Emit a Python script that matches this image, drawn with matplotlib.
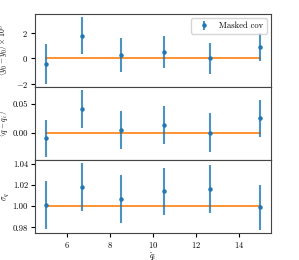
import numpy as np
import matplotlib
matplotlib.use('Agg')
import matplotlib.pyplot as plt

plt.rcParams['font.family'] = 'serif'
plt.rcParams['font.serif'] = ['cmr10']
plt.rcParams['mathtext.fontset'] = 'cm'
plt.rcParams['axes.formatter.use_mathtext'] = True
plt.rcParams['font.size'] = 6.2

q_hat = [5.0, 6.67, 8.5, 10.5, 12.67, 15.0]

y0_mean = [-0.42, 1.79, 0.24, 0.53, 0.0, 0.90]
y0_err = [1.58, 1.46, 1.35, 1.28, 1.21, 1.12]

dq_mean = [-0.0098, 0.040, 0.0041, 0.0134, 0.0, 0.025]
dq_err = [0.032, 0.033, 0.033, 0.033, 0.033, 0.032]

sig_mean = [1.001, 1.018, 1.0067, 1.0139, 1.016, 0.999]
sig_err = [0.0225, 0.0224, 0.023, 0.0225, 0.0228, 0.0212]

ylabels = [r'$\langle \hat{y}_0 - y_0\rangle \times 10^8$',
           r'$\langle q - \hat{q}_i\rangle$',
           r'$\sigma_q$']
refs = [0.0, 0.0, 1.0]

fig, axes = plt.subplots(3, 1, figsize=(2.99, 2.6), dpi=100, sharex=True)
fig.subplots_adjust(left=0.117, right=0.906, top=0.946, bottom=0.104, hspace=0)

data = [(y0_mean, y0_err), (dq_mean, dq_err), (sig_mean, sig_err)]
for ax, (m, e), lab, r in zip(axes, data, ylabels, refs):
    cont = ax.errorbar(q_hat, m, yerr=e, fmt='o', ms=2.2, color='C0',
                       elinewidth=1.5, label='Masked cov', zorder=3)
    for lc in cont[2]:
        lc.set_alpha(0.8)
    ax.plot([q_hat[0], q_hat[-1]], [r, r], color='C1', lw=1.2, zorder=2)
    ax.set_ylabel(lab, fontsize=5.6)
    ax.yaxis.set_label_coords(-0.1, 0.5)
    ax.tick_params(length=3, pad=2)
    for s in ax.spines.values():
        s.set_color('#444444')

axes[0].set_yticks([-2, 0, 2])
axes[1].set_yticks([0.0, 0.05])
axes[1].yaxis.set_major_formatter(matplotlib.ticker.FormatStrFormatter('%.2f'))
axes[2].set_yticks([0.98, 1.0, 1.02, 1.04])
axes[2].yaxis.set_major_formatter(matplotlib.ticker.FormatStrFormatter('%.2f'))
axes[2].set_xticks([6, 8, 10, 12, 14])
axes[2].set_xlabel(r'$\hat{q}_i$', fontsize=5.8)
axes[2].xaxis.set_label_coords(0.5, -0.235)
axes[0].legend(loc='upper right', fontsize=6.2)

fig.savefig('out.png', dpi=100)
